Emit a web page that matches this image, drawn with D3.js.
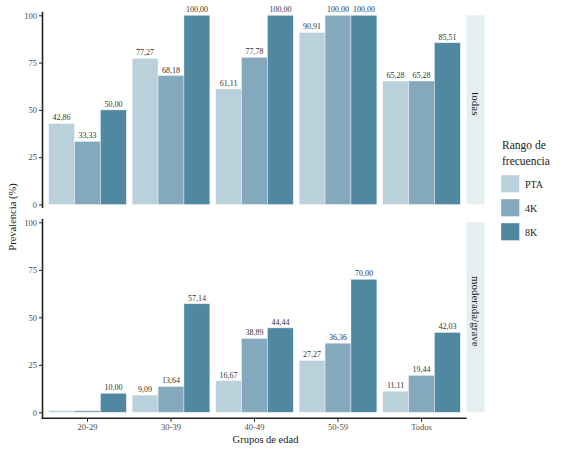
<!DOCTYPE html>
<html>
<head>
<meta charset="utf-8">
<script src="https://cdn.jsdelivr.net/npm/d3@7"></script>
<style>
  body { margin: 0; background: #fff; }
  svg text { font-family: "Liberation Serif", "Times New Roman", serif; }
</style>
</head>
<body>
<svg id="chart" width="571" height="453"></svg>
<script>
// ---- data ----
const groups = ["20-29", "30-39", "40-49", "50-59", "Todos"];
const ranges = ["PTA", "4K", "8K"];
const panels = ["todas", "moderada/grave"];

const todasPTA = [42.86, 77.27, 61.11, 90.91, 65.28];
const todas4K = [33.33, 68.18, 77.78, 100.0, 65.28];
const todas8K = [50.0, 100.0, 100.0, 100.0, 85.51];

const modPTA = [0, 9.09, 16.67, 27.27, 11.11];
const mod4K = [0, 13.64, 38.89, 36.36, 19.44];
const mod8K = [10.0, 57.14, 44.44, 70.0, 42.03];

const yTicks = [0, 25, 50, 75, 100];

const colors = ["#bad1dc", "#85a9bc", "#4f88a0"];

const seriesByPanel = [
  [todasPTA, todas4K, todas8K],
  [modPTA, mod4K, mod8K],
];

// ---- layout ----
const panelLeft = 42.5;
const panelRight = 466.5;
const stripWidth = 18;
const panelTops = [15.3, 222.3];
const panelBottoms = [204.5, 412.3];
const axisY = 418.3;

const locale = d3.formatLocale({
  decimal: ",",
  thousands: ".",
  grouping: [3],
  currency: ["", ""],
});
const fmt = locale.format(".2f");

const svg = d3.select("#chart");

const x = d3
  .scaleBand()
  .domain(groups)
  .range([panelLeft, panelRight])
  .paddingInner(0.07)
  .paddingOuter(0.074);

const xSub = d3.scaleBand().domain(ranges).range([0, x.bandwidth()]);

panels.forEach((panel, pi) => {
  const y = d3
    .scaleLinear()
    .domain([0, 100])
    .range([panelBottoms[pi], panelTops[pi]]);

  const rows = [];
  groups.forEach((g, gi) => {
    ranges.forEach((r, ri) => {
      rows.push({ group: g, range: r, ri, value: seriesByPanel[pi][ri][gi] });
    });
  });

  const g = svg.append("g").attr("class", "panel");

  // strip
  g.append("rect")
    .attr("x", panelRight)
    .attr("y", panelTops[pi])
    .attr("width", stripWidth)
    .attr("height", panelBottoms[pi] - panelTops[pi])
    .attr("fill", "#e5eff2");

  g.append("text")
    .attr(
      "transform",
      `translate(${panelRight + stripWidth / 2},${(panelTops[pi] + panelBottoms[pi]) / 2 - 6}) rotate(90)`
    )
    .attr("text-anchor", "middle")
    .attr("dy", "0.35em")
    .attr("font-size", 11)
    .attr("fill", "#1a1a1a")
    .text(panel);

  // bars (zero values still show a thin sliver, as in the original)
  g.append("g")
    .selectAll("rect")
    .data(rows)
    .join("rect")
    .attr("x", (d) => x(d.group) + xSub(d.range))
    .attr("width", xSub.bandwidth())
    .attr("y", (d) => y(Math.max(d.value, 0.9)))
    .attr("height", (d) => y(0) - y(Math.max(d.value, 0.9)))
    .attr("fill", (d) => colors[d.ri])
    .attr("stroke", "#ffffff")
    .attr("stroke-opacity", 0.55)
    .attr("stroke-width", 0.7);

  // value labels
  g.append("g")
    .selectAll("text")
    .data(rows.filter((d) => d.value > 0))
    .join("text")
    .attr("x", (d) => x(d.group) + xSub(d.range) + xSub.bandwidth() / 2)
    .attr("y", (d) => y(d.value) - 3)
    .attr("text-anchor", "middle")
    .attr("font-size", 8)
    .attr("fill", "#333")
    .text((d) => fmt(d.value));

  // y axis
  const yAxis = g
    .append("g")
    .attr("transform", `translate(${panelLeft},0)`)
    .call(d3.axisLeft(y).tickValues(yTicks).tickSize(3.5).tickPadding(2).tickSizeOuter(0))
    .call((a) => a.select(".domain").remove());
  yAxis.selectAll(".tick line").attr("stroke", "#222").attr("stroke-width", 1);
  yAxis
    .selectAll(".tick text")
    .attr("font-size", 8.5)
    .attr("fill", "#4d4d4d");

  g.append("line")
    .attr("x1", panelLeft)
    .attr("x2", panelLeft)
    .attr("y1", panelTops[pi] - 3.5)
    .attr("y2", pi === 0 ? panelBottoms[pi] + 3.5 : axisY + 0.8)
    .attr("stroke", "#222")
    .attr("stroke-width", 1.6);
});

// x axis
const xAxis = svg
  .append("g")
  .attr("transform", `translate(0,${axisY})`)
  .call(d3.axisBottom(x).tickSize(3.5).tickPadding(2).tickSizeOuter(0))
  .call((a) => a.select(".domain").remove());
xAxis.selectAll(".tick line").attr("stroke", "#222");
xAxis
  .selectAll(".tick text")
  .attr("font-size", 8.5)
  .attr("fill", "#4d4d4d");

svg
  .append("line")
  .attr("x1", panelLeft - 0.8)
  .attr("x2", panelRight)
  .attr("y1", axisY)
  .attr("y2", axisY)
  .attr("stroke", "#222")
  .attr("stroke-width", 1.6);

// axis titles
svg
  .append("text")
  .attr("x", (panelLeft + panelRight + stripWidth) / 2 + 2)
  .attr("y", 443)
  .attr("text-anchor", "middle")
  .attr("font-size", 10.5)
  .attr("fill", "#1a1a1a")
  .text("Grupos de edad");

svg
  .append("text")
  .attr("transform", `translate(16,217) rotate(-90)`)
  .attr("text-anchor", "middle")
  .attr("font-size", 10.5)
  .attr("fill", "#1a1a1a")
  .text("Prevalencia (%)");

// legend
const legend = svg.append("g").attr("transform", "translate(501,0)");
legend
  .append("text")
  .attr("x", 1)
  .attr("y", 149)
  .attr("font-size", 11.5)
  .attr("fill", "#1a1a1a")
  .text("Rango de");
legend
  .append("text")
  .attr("x", 1)
  .attr("y", 165)
  .attr("font-size", 11.5)
  .attr("fill", "#1a1a1a")
  .text("frecuencia");

const key = legend
  .selectAll("g.key")
  .data(ranges)
  .join("g")
  .attr("class", "key")
  .attr("transform", (d, i) => `translate(0,${175 + i * 24})`);
key
  .append("rect")
  .attr("width", 18.5)
  .attr("height", 17.5)
  .attr("fill", (d, i) => colors[i])
  .attr("stroke", "#ffffff")
  .attr("stroke-opacity", 0.55)
  .attr("stroke-width", 0.7);
key
  .append("text")
  .attr("x", 24)
  .attr("y", 9)
  .attr("dy", "0.35em")
  .attr("font-size", 10)
  .attr("fill", "#1a1a1a")
  .text((d) => d);
</script>
</body>
</html>
